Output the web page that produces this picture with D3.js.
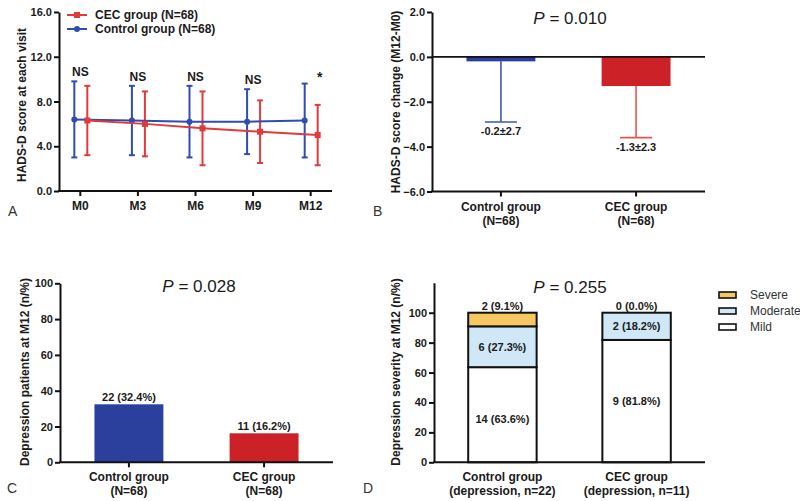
<!DOCTYPE html>
<html><head><meta charset="utf-8">
<script src="https://cdn.jsdelivr.net/npm/d3@7"></script>
<style>
body{margin:0;background:#fff;}
svg{display:block;font-family:"Liberation Sans",Arial,sans-serif;}
</style></head>
<body><svg id="c" width="800" height="501"></svg>
<script>
// ---------- data ----------
const visits = ["M0","M3","M6","M9","M12"];
const cecMean = [6.3,6.0,5.6,5.3,5.0];
const cecSD = [3.1,2.9,3.3,2.8,2.7];
const ctrlMean = [6.4,6.3,6.2,6.2,6.3];
const ctrlSD = [3.4,3.1,3.2,2.9,3.3];
const visitSig = ["NS","NS","NS","NS","*"];
const ticksA = [0,4,8,12,16];

const groupsB = [["Control group","(N=68)"],["CEC group","(N=68)"]];
const changeMean = [-0.2,-1.3];
const changeSD = [2.7,2.3];
const ticksB = [-6,-4,-2,0,2];

const groupsC = [["Control group","(N=68)"],["CEC group","(N=68)"]];
const depCount = [22,11];
const depPct = [32.4,16.2];
const ticksC = [0,20,40,60,80,100];

const groupsD = [["Control group","(depression, n=22)"],["CEC group","(depression, n=11)"]];
const severityLevels = ["Mild","Moderate","Severe"];
const mildN = [14,9], moderateN = [6,2], severeN = [2,0];
const mildPct = [63.6,81.8], moderatePct = [27.3,18.2], severePct = [9.1,0.0];
const ticksD = [0,20,40,60,80,100];

// ---------- style ----------
const BLUE_LINE="#2f4cae", RED_LINE="#df3a3c";
const BLUE_BAR="#2b3f9c", RED_BAR="#cd2128";
const BLUE_ERR="#3b57b2", RED_ERR="#e25755";
const SEV_COL={Mild:"#ffffff",Moderate:"#cfe7f6",Severe:"#f6c862"};
const TXT="#1a1a1a";
const svg=d3.select("#c");

function yAxis(g,scale,ticks,fmt){
  g.call(d3.axisLeft(scale).tickValues(ticks).tickFormat(fmt).tickSize(5).tickSizeOuter(0).tickPadding(2));
  g.select(".domain").attr("stroke","#111").attr("stroke-width",2);
  g.selectAll(".tick line").attr("stroke","#111").attr("stroke-width",2);
  g.selectAll(".tick text").attr("fill",TXT).attr("font-size",11).attr("font-weight","bold").attr("font-family","Liberation Sans, Arial");
}
function xAxisLine(g,x0,x1,y){
  g.append("line").attr("x1",x0-1).attr("x2",x1).attr("y1",y).attr("y2",y).attr("stroke","#111").attr("stroke-width",2);
}
function yTitle(x,y,t){
  svg.append("text").attr("transform",`translate(${x},${y}) rotate(-90)`).attr("text-anchor","middle")
    .attr("dominant-baseline","central").attr("font-size",12).attr("font-weight","bold").attr("fill",TXT).text(t);
}
function pTitle(x,y,val){
  const t=svg.append("text").attr("x",x).attr("y",y).attr("text-anchor","middle").attr("font-size",17).attr("fill",TXT);
  t.append("tspan").attr("font-style","italic").text("P");
  t.append("tspan").text(" = "+val);
}
function panelLabel(x,y,t){
  svg.append("text").attr("x",x).attr("y",y).attr("font-size",14).attr("fill","#333").text(t);
}
function catLabels(xs,y,lines){
  lines.forEach((ls,i)=>{
    ls.forEach((l,j)=>{
      svg.append("text").attr("x",xs[i]).attr("y",y+j*14).attr("text-anchor","middle")
        .attr("dominant-baseline","central").attr("font-size",12).attr("font-weight","bold").attr("fill",TXT).text(l);
    });
  });
}

// ---------- Panel A ----------
{
  const x=d3.scalePoint().domain(visits).range([59,332]).padding(0.37);
  const y=d3.scaleLinear().domain([0,16]).range([191,12]);
  const g=svg.append("g");
  yAxis(g.append("g").attr("transform","translate(59,0)"),y,ticksA,d3.format(".1f"));
  xAxisLine(g,59,332,191);
  visits.forEach(v=>{
    g.append("line").attr("x1",x(v)).attr("x2",x(v)).attr("y1",191).attr("y2",196).attr("stroke","#111").attr("stroke-width",2);
  });
  catLabels(visits.map(v=>x(v)),206,visits.map(v=>[v]));
  const series=[
    {mean:ctrlMean,sd:ctrlSD,col:BLUE_LINE,off:-6,shape:"circle"},
    {mean:cecMean,sd:cecSD,col:RED_LINE,off:7,shape:"square"}
  ];
  series.forEach(s=>{
    visits.forEach((v,i)=>{
      const cx=x(v)+s.off;
      g.append("line").attr("x1",cx).attr("x2",cx).attr("y1",y(s.mean[i]+s.sd[i])).attr("y2",y(s.mean[i]-s.sd[i]))
        .attr("stroke",s.col).attr("stroke-width",2);
      [s.mean[i]+s.sd[i],s.mean[i]-s.sd[i]].forEach(e=>{
        g.append("line").attr("x1",cx-3).attr("x2",cx+3).attr("y1",y(e)).attr("y2",y(e)).attr("stroke",s.col).attr("stroke-width",2);
      });
    });
  });
  series.forEach(s=>{
    const line=d3.line().x((d,i)=>x(visits[i])+s.off).y(d=>y(d));
    g.append("path").attr("d",line(s.mean)).attr("fill","none").attr("stroke",s.col).attr("stroke-width",2);
    s.mean.forEach((m,i)=>{
      const cx=x(visits[i])+s.off;
      if(s.shape==="circle") g.append("circle").attr("cx",cx).attr("cy",y(m)).attr("r",3).attr("fill",s.col);
      else g.append("rect").attr("x",cx-3).attr("y",y(m)-3).attr("width",6).attr("height",6).attr("fill",s.col);
    });
  });
  visits.forEach((v,i)=>{
    const top=Math.max(ctrlMean[i]+ctrlSD[i],cecMean[i]+cecSD[i]);
    const isStar=visitSig[i]==="*";
    g.append("text").attr("x",x(v)+(isStar?9:0)).attr("y",y(top)-(isStar?2:5)).attr("text-anchor","middle")
      .attr("font-size",isStar?14:12).attr("font-weight","bold").attr("fill",TXT).text(visitSig[i]);
  });
  // legend
  const leg=[{t:"CEC group (N=68)",col:RED_LINE,shape:"square",y:15},{t:"Control group (N=68)",col:BLUE_LINE,shape:"circle",y:29}];
  leg.forEach(l=>{
    g.append("line").attr("x1",67).attr("x2",87).attr("y1",l.y).attr("y2",l.y).attr("stroke",l.col).attr("stroke-width",2);
    if(l.shape==="circle") g.append("circle").attr("cx",77).attr("cy",l.y).attr("r",3).attr("fill",l.col);
    else g.append("rect").attr("x",74).attr("y",l.y-3).attr("width",6).attr("height",6).attr("fill",l.col);
    g.append("text").attr("x",95).attr("y",l.y).attr("dominant-baseline","central").attr("font-size",12).attr("font-weight","bold").attr("fill",TXT).text(l.t);
  });
  yTitle(22,105,"HADS-D score at each visit");
  panelLabel(8,216,"A");
}

// ---------- Panel B ----------
{
  const names=groupsB.map(d=>d[0]);
  const x=d3.scaleBand().domain(names).range([432,705]).paddingInner(0.49).paddingOuter(0.255);
  const y=d3.scaleLinear().domain([-6,2]).range([191.5,12]);
  const g=svg.append("g");
  yAxis(g.append("g").attr("transform","translate(432,0)"),y,ticksB,d3.format(".1f"));
  xAxisLine(g,432,705,191.5);
  const cols=[BLUE_BAR,RED_BAR], ecols=[BLUE_ERR,RED_ERR];
  names.forEach((n,i)=>{
    const cx=x(n)+x.bandwidth()/2;
    g.append("line").attr("x1",cx).attr("x2",cx).attr("y1",y(changeMean[i])).attr("y2",y(changeMean[i]-changeSD[i])).attr("stroke",ecols[i]).attr("stroke-width",1.6);
    g.append("line").attr("x1",cx-16).attr("x2",cx+16).attr("y1",y(changeMean[i]-changeSD[i])).attr("y2",y(changeMean[i]-changeSD[i])).attr("stroke",ecols[i]).attr("stroke-width",1.6);
    g.append("rect").attr("x",x(n)).attr("y",y(0)).attr("width",x.bandwidth()).attr("height",y(changeMean[i])-y(0)).attr("fill",cols[i]);
    g.append("text").attr("x",cx).attr("y",y(changeMean[i]-changeSD[i])+9).attr("text-anchor","middle").attr("dominant-baseline","central")
      .attr("font-size",11).attr("font-weight","bold").attr("fill",TXT).text(changeMean[i].toFixed(1)+"±"+changeSD[i].toFixed(1));
    g.append("line").attr("x1",cx).attr("x2",cx).attr("y1",191.5).attr("y2",196.5).attr("stroke","#111").attr("stroke-width",2);
  });
  g.append("line").attr("x1",432).attr("x2",705).attr("y1",y(0)).attr("y2",y(0)).attr("stroke","#111").attr("stroke-width",1.6);
  catLabels(names.map(n=>x(n)+x.bandwidth()/2),206.5,groupsB);
  pTitle(570,24,"0.010");
  yTitle(396,102,"HADS-D score change (M12-M0)");
  panelLabel(373,216,"B");
}

// ---------- Panel C ----------
{
  const names=groupsC.map(d=>d[0]);
  const x=d3.scaleBand().domain(names).range([60,333]).paddingInner(0.49).paddingOuter(0.255);
  const y=d3.scaleLinear().domain([0,100]).range([462.3,283.3]);
  const g=svg.append("g");
  yAxis(g.append("g").attr("transform","translate(60,0)"),y,ticksC,d3.format("d"));
  const cols=[BLUE_BAR,RED_BAR];
  names.forEach((n,i)=>{
    const cx=x(n)+x.bandwidth()/2;
    g.append("rect").attr("x",x(n)).attr("y",y(depPct[i])).attr("width",x.bandwidth()).attr("height",y(0)-y(depPct[i])).attr("fill",cols[i]);
    g.append("text").attr("x",cx).attr("y",y(depPct[i])-3).attr("text-anchor","middle")
      .attr("font-size",11).attr("font-weight","bold").attr("fill",TXT).text(`${depCount[i]} (${depPct[i].toFixed(1)}%)`);
    g.append("line").attr("x1",cx).attr("x2",cx).attr("y1",462.3).attr("y2",467.3).attr("stroke","#111").attr("stroke-width",2);
  });
  xAxisLine(g,60,333,462.3);
  catLabels(names.map(n=>x(n)+x.bandwidth()/2),477.3,groupsC);
  pTitle(199,292,"0.028");
  yTitle(25,372,"Depression patients at M12 (n/%)");
  panelLabel(7,493,"C");
}

// ---------- Panel D ----------
{
  const names=groupsD.map(d=>d[0]);
  const x=d3.scaleBand().domain(names).range([434,705]).paddingInner(0.49).paddingOuter(0.255);
  const y=d3.scaleLinear().domain([0,120]).range([462.3,282.8]);
  const g=svg.append("g");
  yAxis(g.append("g").attr("transform","translate(434,0)"),y,ticksD,d3.format("d"));
  // y domain line covers to 120
  const rows=names.map((n,i)=>({n,Mild:mildPct[i],Moderate:moderatePct[i],Severe:severePct[i]}));
  const stack=d3.stack().keys(severityLevels)(rows);
  stack.forEach(layer=>{
    layer.forEach((d,i)=>{
      if(d[1]-d[0]<=0) return;
      g.append("rect").attr("x",x(names[i])).attr("y",y(d[1])).attr("width",x.bandwidth()).attr("height",y(d[0])-y(d[1]))
        .attr("fill",SEV_COL[layer.key]).attr("stroke","#111").attr("stroke-width",2);
    });
  });
  const counts={Mild:mildN,Moderate:moderateN,Severe:severeN}, pcts={Mild:mildPct,Moderate:moderatePct,Severe:severePct};
  stack.forEach(layer=>{
    layer.forEach((d,i)=>{
      const cx=x(names[i])+x.bandwidth()/2;
      const txt=`${counts[layer.key][i]} (${pcts[layer.key][i].toFixed(1)}%)`;
      const yy = layer.key==="Severe" ? y(d[1])-7 : (y(d[0])+y(d[1]))/2 + (layer.key==="Mild"&&i===0?4:0);
      g.append("text").attr("x",cx).attr("y",yy).attr("text-anchor","middle").attr("dominant-baseline","central")
        .attr("font-size",11).attr("font-weight","bold").attr("fill",TXT).text(txt);
    });
  });
  xAxisLine(g,434,705,462.3);
  catLabels(names.map(n=>x(n)+x.bandwidth()/2),477.3,groupsD);
  pTitle(570,293,"0.255");
  yTitle(396,372,"Depression severity at M12 (n/%)");
  panelLabel(363,493,"D");
  // legend
  severityLevels.slice().reverse().forEach((k,j)=>{
    const ly=295+j*16;
    g.append("rect").attr("x",719).attr("y",ly-3).attr("width",17).attr("height",6).attr("fill",SEV_COL[k]).attr("stroke","#111").attr("stroke-width",1.6);
    g.append("text").attr("x",750).attr("y",ly).attr("dominant-baseline","central").attr("font-size",12).attr("fill","#333").text(k);
  });
}
</script></body></html>
